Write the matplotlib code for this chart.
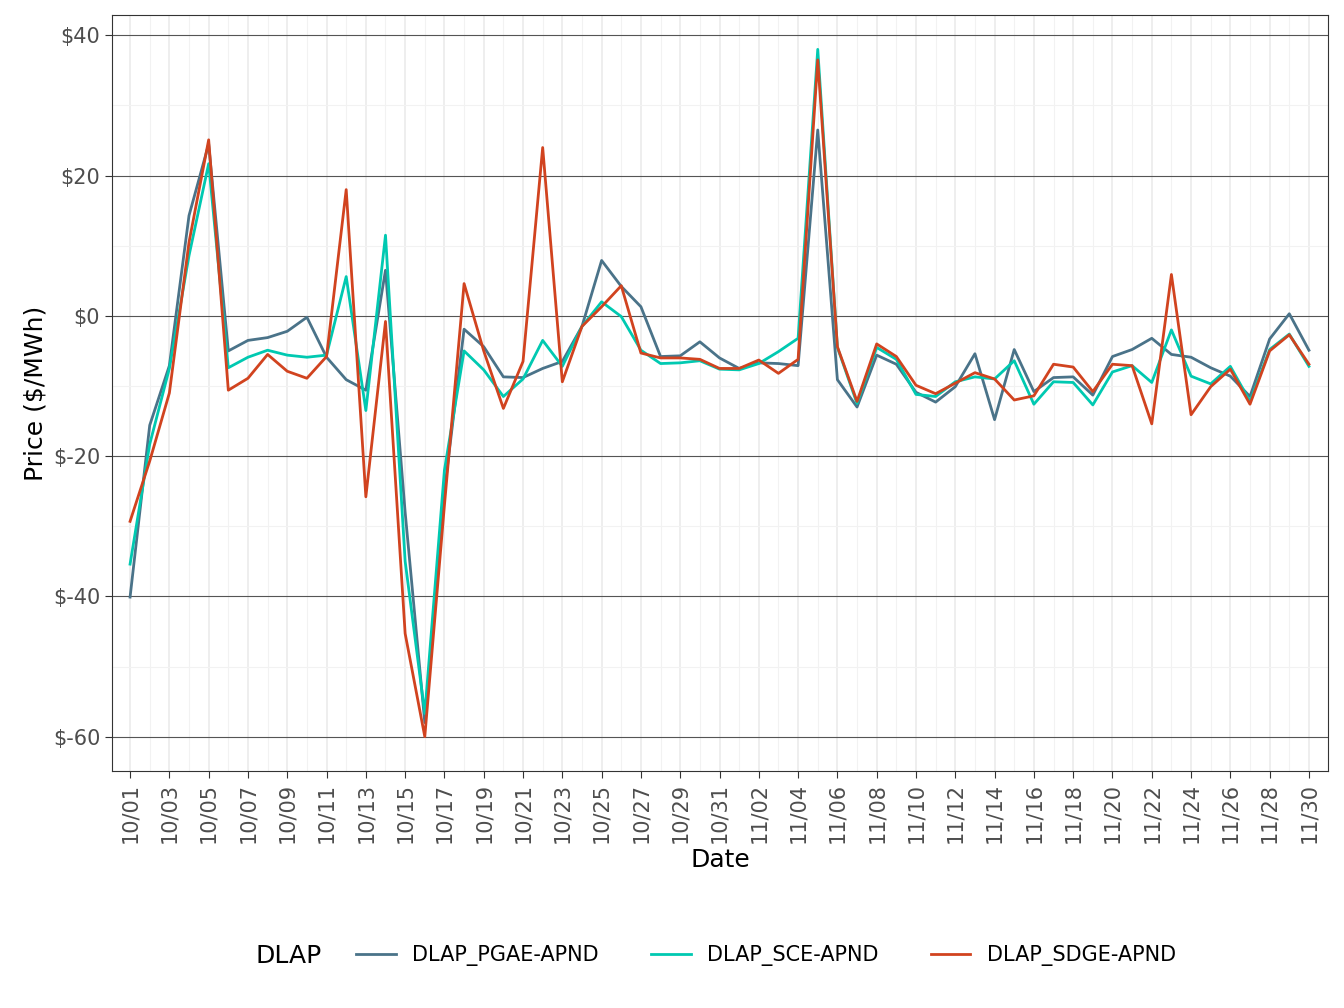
import matplotlib
matplotlib.use("Agg")
import matplotlib.pyplot as plt
import numpy as np
import datetime as dt

start = dt.date(2023, 10, 1)
dates = [start + dt.timedelta(days=i) for i in range(61)]

pgae = [-40.1, -15.6, -7.1, 14.3, 24.5, -5.0, -3.5, -3.1, -2.2, -0.2,
        -5.9, -9.1, -10.6, 6.5, -28, -58, -25, -1.9, -4.4, -8.7,
        -8.8, -7.5, -6.5, -1.5, 7.9, 4.2, 1.3, -5.8, -5.7, -3.7,
        -6.0, -7.5, -6.7, -6.8, -7.1, 26.5, -9.1, -13.0, -5.6, -6.9,
        -10.9, -12.3, -10.1, -5.4, -14.8, -4.8, -10.8, -8.8, -8.7, -11.3,
        -5.8, -4.8, -3.2, -5.5, -5.9, -7.4, -8.6, -11.5, -3.3, 0.3, -4.9]
sce = [-35.4, -18.3, -7.5, 8.6, 21.7, -7.4, -5.9, -4.9, -5.6, -5.9,
       -5.6, 5.6, -13.5, 11.5, -35, -56.7, -22, -5.0, -7.7, -11.5,
       -9.0, -3.5, -7.2, -1.5, 2.0, -0.1, -4.9, -6.8, -6.7, -6.4,
       -7.6, -7.7, -6.8, -5.1, -3.2, 38.0, -4.5, -12.5, -4.5, -6.2,
       -11.2, -11.5, -9.4, -8.7, -9.0, -6.4, -12.6, -9.4, -9.5, -12.7,
       -8.0, -7.1, -9.5, -2.0, -8.6, -9.7, -7.2, -12.2, -4.8, -2.6, -7.2]
sdge = [-29.3, -20.7, -11.0, 10.5, 25.1, -10.6, -8.9, -5.5, -7.9, -8.9,
        -5.8, 18.0, -25.8, -0.8, -45.3, -60.0, -27, 4.6, -5.0, -13.2,
        -6.5, 24.0, -9.4, -1.5, 1.3, 4.3, -5.3, -6.0, -6.0, -6.2,
        -7.5, -7.5, -6.3, -8.2, -6.2, 36.5, -4.4, -12.2, -4.0, -5.8,
        -9.9, -11.1, -9.6, -8.1, -9.0, -12.0, -11.4, -6.9, -7.3, -10.8,
        -6.9, -7.1, -15.4, 5.9, -14.1, -10.1, -7.6, -12.6, -5.0, -2.7, -6.9]

series = [("DLAP_PGAE-APND", pgae, "#4a7389"),
          ("DLAP_SCE-APND", sce, "#00c9b1"),
          ("DLAP_SDGE-APND", sdge, "#d1431f")]

fig = plt.figure(figsize=(13.44, 10.08), dpi=100)
ax = fig.add_axes([112/1344, 1-771/1008, (1328-112)/1344, (771-15)/1008])
x = np.arange(61)
for name, vals, c in series:
    ax.plot(x, vals, color=c, lw=2, label=name)

ax.set_xlim(-0.92, 60.97)
ax.set_ylim(-64.9, 42.9)
xt = list(range(0, 61, 2))
ax.set_xticks(xt)
ax.set_xticklabels([dates[i].strftime("%m/%d") for i in xt], rotation=90, fontsize=15, color="#4d4d4d")
ax.set_xticks(list(range(1, 61, 2)), minor=True)
yt = [-60, -40, -20, 0, 20, 40]
ax.set_yticks(yt)
ax.set_yticklabels([f"${v}" for v in yt], fontsize=15, color="#4d4d4d")
ax.set_yticks([-50, -30, -10, 10, 30], minor=True)
ax.grid(which="major", axis="y", color="#555555", lw=0.8)
ax.grid(which="major", axis="x", color="#ebebeb", lw=1.2)
ax.grid(which="minor", color="#f2f2f2", lw=0.8)
ax.tick_params(which="minor", length=0)
ax.tick_params(which="major", length=5, color="#333333")
ax.set_axisbelow(True)
for s in ax.spines.values():
    s.set_color("#333333")
ax.set_xlabel("Date", fontsize=18)
ax.set_ylabel("Price ($/MWh)", fontsize=18)

h, l = ax.get_legend_handles_labels()
fig.legend(h, l, loc="center", bbox_to_anchor=(0.535, 1-956/1008), ncol=3, frameon=False,
           fontsize=15, title="DLAP", title_fontsize=18, handlelength=1.9, columnspacing=2.5)
leg = fig.legends[0]
leg._legend_box.align = "left"
# place title at left of entries
leg.set_title("DLAP")
from matplotlib.offsetbox import HPacker
fig.legends.clear()
fig.text(0.19, 1-956/1008, "DLAP", fontsize=18, va="center")
fig.legend(h, l, loc="center", bbox_to_anchor=(0.57, 1-956/1008), ncol=3, frameon=False,
           fontsize=15, handlelength=1.9, columnspacing=2.5)
fig.savefig("out.png", dpi=100)
